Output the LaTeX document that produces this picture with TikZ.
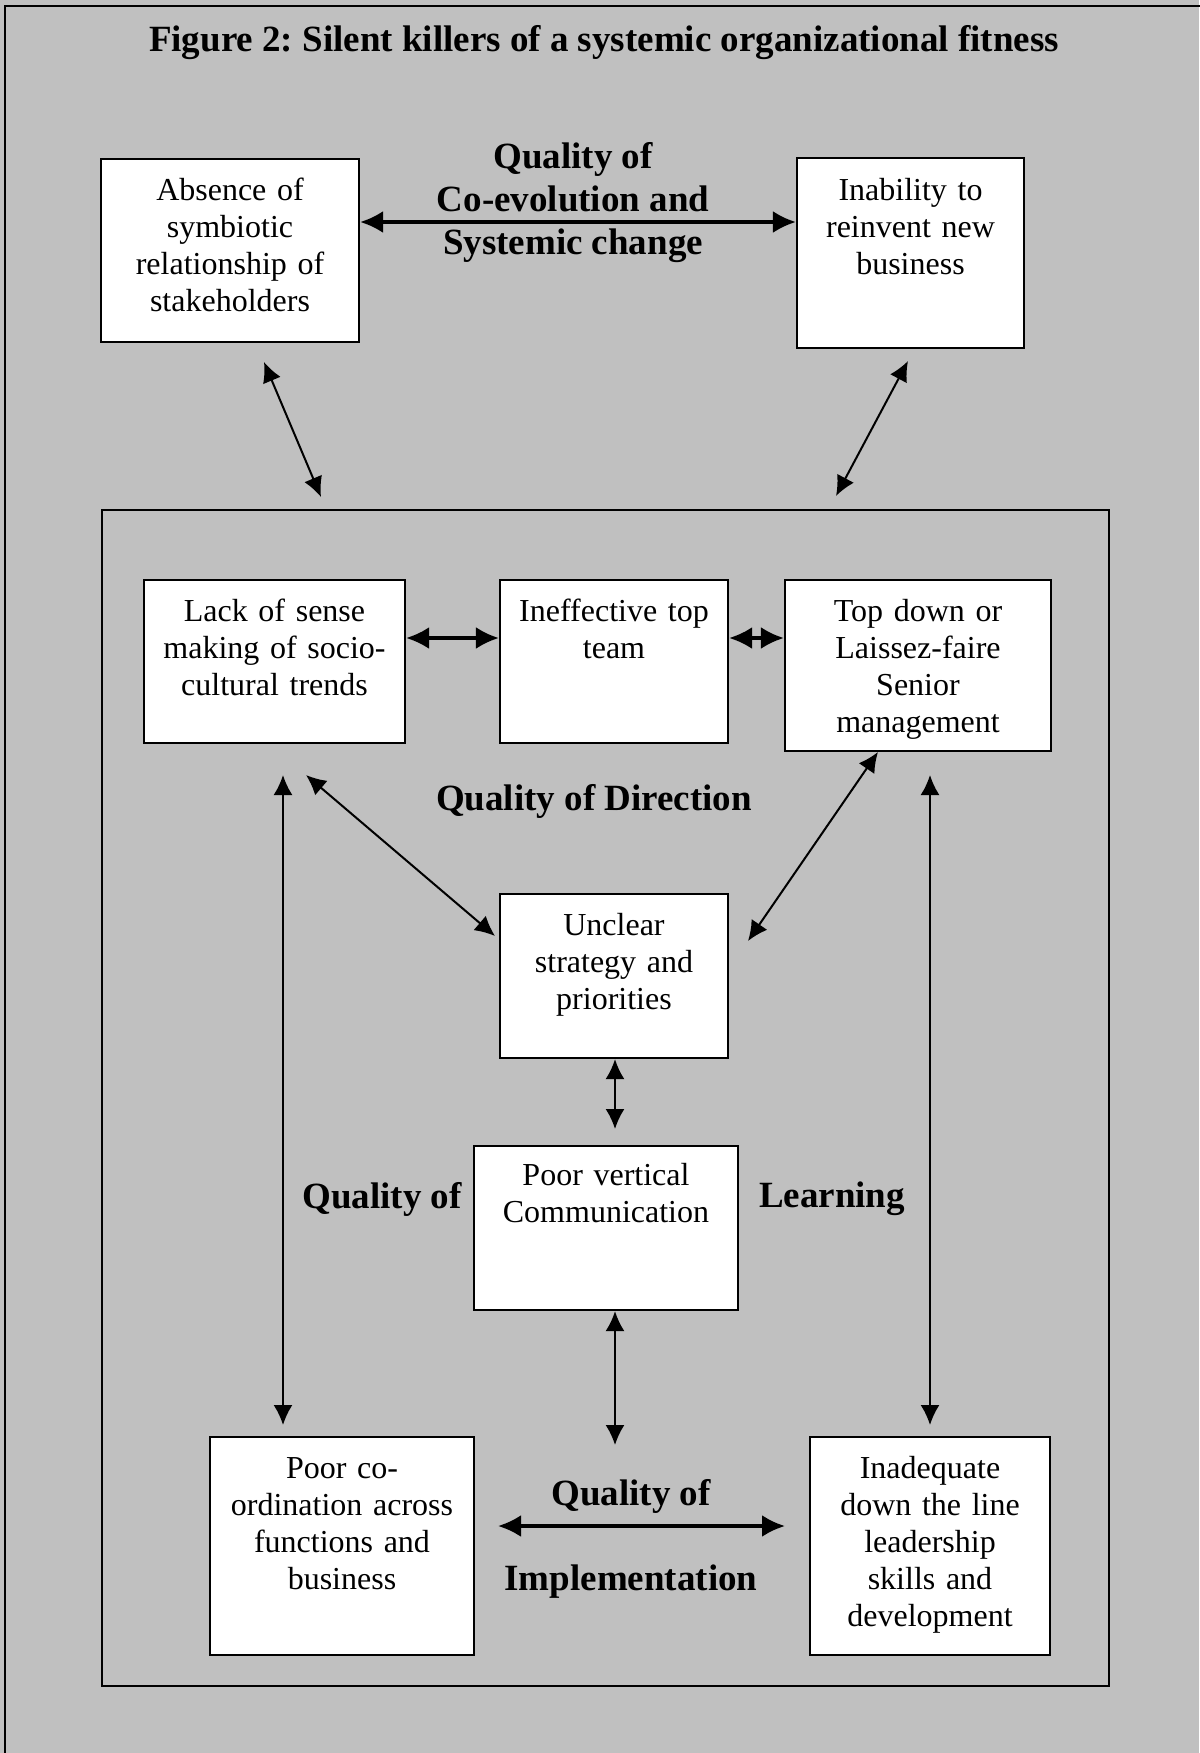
\documentclass[tikz,border=0pt]{standalone}
\usepackage{fontspec}
\setmainfont{Liberation Serif}
\usetikzlibrary{arrows.meta}
\definecolor{panel}{HTML}{C0C0C0}
\frenchspacing
\begin{document}
\begin{tikzpicture}[x=1pt,y=-1pt,
  box/.style={draw=black,line width=2.2pt,fill=white},
  boxtext/.style={anchor=base,inner sep=0pt,align=center,text width=#1,
    font=\fontsize{32}{37}\selectfont},
  boxtext/.default=240pt,
  heading/.style={inner sep=0pt,align=center,font=\bfseries\fontsize{37}{43}\selectfont},
  link/.style={line width=2pt,{Latex[length=20pt,width=19pt]}-{Latex[length=20pt,width=19pt]}},
  biglink/.style={line width=3.4pt,{Latex[length=23pt,width=22pt]}-{Latex[length=23pt,width=22pt]}}
]
\useasboundingbox (0,0) rectangle (1199,1753);
% panel background and its frame (runs off the right and bottom edges)
\fill[panel] (0,0) rectangle (1199,1753);
\draw[line width=2.5pt] (5,1760) -- (5,6) -- (1205,6);

% title
\node[heading] (title) at (604,43) {Figure 2: Silent killers of a systemic organizational fitness};

% outer boxes
\node[box,minimum width=258pt,minimum height=183pt,inner sep=0pt] (absence) at (230,250.5) {};
\node[boxtext=250pt] (absenceT) at (230,200) {Absence of\\symbiotic\\relationship of\\stakeholders};
\node[box,minimum width=227pt,minimum height=190pt,inner sep=0pt] (inability) at (910.5,253) {};
\node[boxtext=220pt] (inabilityT) at (910.5,200) {Inability to\\reinvent new\\business};
\node[heading] (coevo) at (573,203) {Quality of\\Co-evolution and\\Systemic change};

% inner frame
\node[draw,line width=2.2pt,minimum width=1007pt,minimum height=1176pt,inner sep=0pt] (inner) at (605.5,1098) {};

% direction row
\node[box,minimum width=261pt,minimum height=163pt,inner sep=0pt] (sense) at (274.5,661.5) {};
\node[boxtext=255pt] (senseT) at (274.5,621) {Lack of sense\\making of socio-\\cultural trends};
\node[box,minimum width=228pt,minimum height=163pt,inner sep=0pt] (topteam) at (614,661.5) {};
\node[boxtext=225pt] (topteamT) at (614,621) {Ineffective top\\team};
\node[box,minimum width=266pt,minimum height=171pt,inner sep=0pt] (senior) at (918,665.5) {};
\node[boxtext=260pt] (seniorT) at (918,621) {Top down or\\Laissez-faire\\Senior\\management};
\node[heading] (direction) at (594,801) {Quality of Direction};

% centre column
\node[box,minimum width=228pt,minimum height=164pt,inner sep=0pt] (strategy) at (614,976) {};
\node[boxtext=225pt] (strategyT) at (614,935) {Unclear\\strategy and\\priorities};
\node[box,minimum width=264pt,minimum height=164pt,inner sep=0pt] (vertical) at (606,1228) {};
\node[boxtext=260pt] (verticalT) at (606,1185) {Poor vertical\\Communication};
\node[heading] (learnL) at (382,1199) {Quality of};
\node[heading] (learnR) at (832,1199) {Learning};

% implementation row
\node[box,minimum width=264pt,minimum height=218pt,inner sep=0pt] (coord) at (342,1546) {};
\node[boxtext=260pt] (coordT) at (342,1478) {Poor co-\\ordination across\\functions and\\business};
\node[box,minimum width=240pt,minimum height=218pt,inner sep=0pt] (leader) at (930,1546) {};
\node[boxtext=236pt] (leaderT) at (930,1478) {Inadequate\\down the line\\leadership\\skills and\\development};
\node[heading] (implA) at (631,1496) {Quality of};
\node[heading] (implB) at (631,1582) {Implementation};

% connector end points
\coordinate (absD) at (264,362);   \coordinate (innerL) at (321,497);
\coordinate (inaD) at (908,361);   \coordinate (innerR) at (836,496);
\coordinate (senseD) at (306,775); \coordinate (stratL) at (495,936);
\coordinate (seniorD) at (878,752);\coordinate (stratR) at (748,941);
\coordinate (leftTop) at (283,775);\coordinate (leftBot) at (283,1425);
\coordinate (rightTop) at (930,775);\coordinate (rightBot) at (930,1425);
\coordinate (vertD) at (615,1445);

% connectors
\draw[biglink] (absence.east |- 0,222) -- (inability.west |- 0,222);
\draw[link] (absD) -- (innerL);
\draw[link] (inaD) -- (innerR);
\draw[biglink] (sense.east |- 0,638) -- (topteam.west |- 0,638);
\draw[biglink] (topteam.east |- 0,638) -- (senior.west |- 0,638);
\draw[link] (senseD) -- (stratL);
\draw[link] (seniorD) -- (stratR);
\draw[link] (leftTop) -- (leftBot);
\draw[link] (rightTop) -- (rightBot);
\draw[link] (strategy.south -| 615,0) -- (615,1129);
\draw[link] (vertical.south -| 615,0) -- (vertD);
\draw[biglink] (498,1526) -- (785,1526);
\end{tikzpicture}
\end{document}
